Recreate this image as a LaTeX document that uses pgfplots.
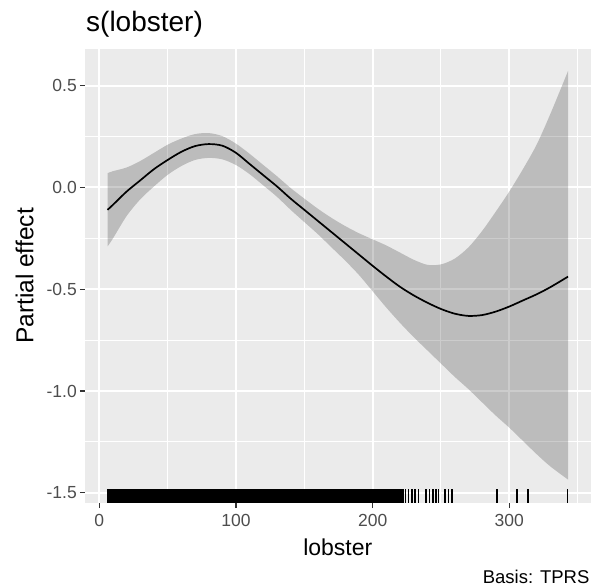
\documentclass[border=0pt]{standalone}
\usepackage{pgfplots}
\pgfplotsset{compat=1.18}
\usepackage{pgfplotstable}
\usepgfplotslibrary{fillbetween}
\usepackage{fontspec}
\setmainfont{Liberation Sans}
\definecolor{panel}{HTML}{EBEBEB}
\definecolor{ticktext}{HTML}{4D4D4D}
\definecolor{tickmark}{HTML}{333333}

\pgfplotstableread{
x m l u
6 -0.110 -0.290 0.070
10 -0.085 -0.250 0.080
20 -0.020 -0.140 0.098
30 0.035 -0.058 0.130
40 0.090 0.005 0.170
50 0.135 0.062 0.210
60 0.175 0.105 0.240
70 0.203 0.135 0.262
80 0.213 0.145 0.267
90 0.205 0.138 0.252
100 0.170 0.110 0.215
110 0.115 0.065 0.165
120 0.060 0.010 0.110
130 0.005 -0.046 0.055
140 -0.055 -0.110 -0.003
150 -0.110 -0.170 -0.055
160 -0.165 -0.230 -0.105
170 -0.220 -0.295 -0.150
180 -0.275 -0.360 -0.190
190 -0.330 -0.430 -0.225
200 -0.385 -0.510 -0.255
210 -0.438 -0.590 -0.285
220 -0.488 -0.665 -0.320
230 -0.530 -0.735 -0.355
240 -0.566 -0.800 -0.380
250 -0.597 -0.865 -0.378
260 -0.620 -0.930 -0.350
270 -0.631 -0.990 -0.295
280 -0.627 -1.055 -0.215
290 -0.610 -1.120 -0.120
300 -0.585 -1.180 -0.020
310 -0.555 -1.245 0.090
320 -0.525 -1.310 0.210
330 -0.490 -1.370 0.360
343 -0.438 -1.435 0.572
}\bandtab

\begin{document}
\begin{tikzpicture}
\begin{axis}[
  scale only axis,
  width=505.6bp, height=454bp,
  xmin=-10.5, xmax=359.5,
  ymin=-1.55, ymax=0.68,
  axis background/.style={fill=panel},
  axis line style={draw=none},
  xtick={0,100,200,300},
  xticklabels={0,100,200,300},
  ytick={-1.5,-1,-0.5,0,0.5},
  yticklabels={-1.5,-1.0,-0.5,0.0,0.5},
  minor xtick={50,150,250,350},
  minor ytick={-1.25,-0.75,-0.25,0.25},
  grid=both,
  major grid style={white, line width=2bp},
  minor grid style={white, line width=1bp},
  tick pos=left,
  tick align=outside,
  major tick length=5bp,
  minor tick length=0bp,
  tick style={draw=tickmark, line width=1.1bp},
  tick label style={font=\fontsize{17.5bp}{20bp}\selectfont, text=ticktext, inner sep=0pt},
  xticklabel style={anchor=north, yshift=-6bp},
  yticklabel style={anchor=east, xshift=-3bp},
  title={s(lobster)},
  every axis title/.style={at={(axis description cs:0,1)}, anchor=base west, yshift=17bp, xshift=1bp, inner sep=0pt, font=\fontsize{28bp}{32bp}\selectfont},
  xlabel={lobster},
  every axis x label/.style={at={(axis description cs:0.5,0)}, anchor=base, yshift=-52bp, inner sep=0pt, font=\fontsize{23bp}{27bp}\selectfont},
  ylabel={Partial effect},
  every axis y label/.style={at={(axis description cs:0,0.5)}, xshift=-51.7bp, rotate=90, anchor=base, inner sep=0pt, font=\fontsize{24.5bp}{28bp}\selectfont},
  clip mode=individual,
]
\addplot[name path=up, draw=none, smooth] table[x=x, y=u]{\bandtab};
\addplot[name path=lo, draw=none, smooth] table[x=x, y=l]{\bandtab};
\addplot[fill=black, fill opacity=0.2, draw=none] fill between[of=up and lo];
\addplot[black, line width=1.7bp, smooth] table[x=x, y=m]{\bandtab};
\addplot[only marks, mark=|, mark size=7bp, mark options={line width=1.8bp, black}] coordinates {
(6,-1.516) (7,-1.516) (8,-1.516) (9,-1.516) (10,-1.516) (11,-1.516) (12,-1.516) (13,-1.516) (14,-1.516) (15,-1.516)
(16,-1.516) (17,-1.516) (18,-1.516) (19,-1.516) (20,-1.516) (21,-1.516) (22,-1.516) (23,-1.516) (24,-1.516) (25,-1.516)
(26,-1.516) (27,-1.516) (28,-1.516) (29,-1.516) (30,-1.516) (31,-1.516) (32,-1.516) (33,-1.516) (34,-1.516) (35,-1.516)
(36,-1.516) (37,-1.516) (38,-1.516) (39,-1.516) (40,-1.516) (41,-1.516) (42,-1.516) (43,-1.516) (44,-1.516) (45,-1.516)
(46,-1.516) (47,-1.516) (48,-1.516) (49,-1.516) (50,-1.516) (51,-1.516) (52,-1.516) (53,-1.516) (54,-1.516) (55,-1.516)
(56,-1.516) (57,-1.516) (58,-1.516) (59,-1.516) (60,-1.516) (61,-1.516) (62,-1.516) (63,-1.516) (64,-1.516) (65,-1.516)
(66,-1.516) (67,-1.516) (68,-1.516) (69,-1.516) (70,-1.516) (71,-1.516) (72,-1.516) (73,-1.516) (74,-1.516) (75,-1.516)
(76,-1.516) (77,-1.516) (78,-1.516) (79,-1.516) (80,-1.516) (81,-1.516) (82,-1.516) (83,-1.516) (84,-1.516) (85,-1.516)
(86,-1.516) (87,-1.516) (88,-1.516) (89,-1.516) (90,-1.516) (91,-1.516) (92,-1.516) (93,-1.516) (94,-1.516) (95,-1.516)
(96,-1.516) (97,-1.516) (98,-1.516) (99,-1.516) (100,-1.516) (101,-1.516) (102,-1.516) (103,-1.516) (104,-1.516) (105,-1.516)
(106,-1.516) (107,-1.516) (108,-1.516) (109,-1.516) (110,-1.516) (111,-1.516) (112,-1.516) (113,-1.516) (114,-1.516) (115,-1.516)
(116,-1.516) (117,-1.516) (118,-1.516) (119,-1.516) (120,-1.516) (121,-1.516) (122,-1.516) (123,-1.516) (124,-1.516) (125,-1.516)
(126,-1.516) (127,-1.516) (128,-1.516) (129,-1.516) (130,-1.516) (131,-1.516) (132,-1.516) (133,-1.516) (134,-1.516) (135,-1.516)
(136,-1.516) (137,-1.516) (138,-1.516) (139,-1.516) (140,-1.516) (141,-1.516) (142,-1.516) (143,-1.516) (144,-1.516) (145,-1.516)
(146,-1.516) (147,-1.516) (148,-1.516) (149,-1.516) (150,-1.516) (151,-1.516) (152,-1.516) (153,-1.516) (154,-1.516) (155,-1.516)
(156,-1.516) (157,-1.516) (158,-1.516) (159,-1.516) (160,-1.516) (161,-1.516) (162,-1.516) (163,-1.516) (164,-1.516) (165,-1.516)
(166,-1.516) (167,-1.516) (168,-1.516) (169,-1.516) (170,-1.516) (171,-1.516) (172,-1.516) (173,-1.516) (174,-1.516) (175,-1.516)
(176,-1.516) (177,-1.516) (178,-1.516) (179,-1.516) (180,-1.516) (181,-1.516) (182,-1.516) (183,-1.516) (184,-1.516) (185,-1.516)
(186,-1.516) (187,-1.516) (188,-1.516) (189,-1.516) (190,-1.516) (191,-1.516) (192,-1.516) (193,-1.516) (194,-1.516) (195,-1.516)
(196,-1.516) (197,-1.516) (198,-1.516) (199,-1.516) (200,-1.516) (201,-1.516) (202,-1.516) (203,-1.516) (204,-1.516) (205,-1.516)
(206,-1.516) (207,-1.516) (208,-1.516) (209,-1.516) (210,-1.516) (211,-1.516) (212,-1.516) (213,-1.516) (214,-1.516) (215,-1.516)
(216,-1.516) (217,-1.516) (218,-1.516) (219,-1.516) (220,-1.516) (221,-1.516)
(222.5,-1.516) (224,-1.516) (226.2,-1.516) (228.7,-1.516) (231.1,-1.516) (233.5,-1.516) (239.2,-1.516) (241.6,-1.516)
(244.1,-1.516) (246.5,-1.516) (248.2,-1.516) (253.1,-1.516) (255.5,-1.516) (258,-1.516)
(291,-1.516) (305.7,-1.516) (313.8,-1.516) (342.6,-1.516)
};
\node[anchor=base east, yshift=-80bp, xshift=-1bp, inner sep=0pt, font=\fontsize{18.5bp}{21bp}\selectfont] at (rel axis cs:1,0) {Basis: TPRS};
\end{axis}
\pgfresetboundingbox
\path[use as bounding box] (-85bp,-83bp) rectangle (507bp,503bp);
\end{tikzpicture}
\end{document}
